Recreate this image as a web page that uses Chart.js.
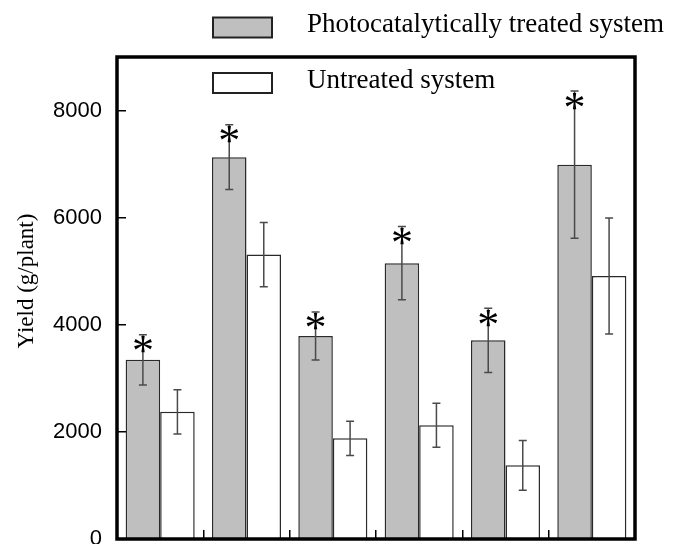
<!DOCTYPE html>
<html>
<head>
<meta charset="utf-8">
<script src="https://cdn.jsdelivr.net/npm/chart.js@4.4.0/dist/chart.umd.min.js"></script>
<style>
  html, body { margin: 0; padding: 0; background: #fff; }
  #wrap { width: 682px; height: 544px; }
</style>
</head>
<body>
<div id="wrap"><canvas id="rendimiento-grafica"></canvas></div>
<script>
// Datos (g/planta)
const grupos = ["1", "2", "3", "4", "5", "6"];
const tratado = [3345, 7130, 3790, 5150, 3710, 6990];
const tratadoErr = [470, 605, 450, 685, 600, 1375];
const sinTratar = [2375, 5310, 1880, 2125, 1375, 4910];
const sinTratarErr = [413, 600, 320, 410, 466, 1082];
const tratadoSignif = [true, true, true, true, true, true];
const sinTratarSignif = [false, false, false, false, false, false];
const yTicks = [0, 2000, 4000, 6000, 8000];
const yMax = 9000;
const yTitulo = "Yield (g/plant)";

const serif = "'Liberation Serif', 'Times New Roman', serif";
const sans = "'Liberation Sans', Arial, sans-serif";

// Barras de error y asteriscos
const barrasError = {
  id: "barrasError",
  afterDatasetsDraw(chart) {
    const { ctx } = chart;
    const y = chart.scales.y;
    chart.data.datasets.forEach((ds, i) => {
      const meta = chart.getDatasetMeta(i);
      meta.data.forEach((bar, j) => {
        const v = ds.data[j];
        const e = ds.errores[j];
        const yTop = y.getPixelForValue(v + e);
        const yBot = y.getPixelForValue(v - e);
        const x = bar.x;
        ctx.save();
        ctx.strokeStyle = "#4a4a4a";
        ctx.lineWidth = 1.5;
        ctx.beginPath();
        ctx.moveTo(x, yTop);
        ctx.lineTo(x, yBot);
        ctx.moveTo(x - 4, yTop);
        ctx.lineTo(x + 4, yTop);
        ctx.moveTo(x - 4, yBot);
        ctx.lineTo(x + 4, yBot);
        ctx.stroke();

        if (ds.signif[j]) {
          ctx.font = "44px " + serif;
          ctx.fillStyle = "#000";
          ctx.textAlign = "center";
          const m = ctx.measureText("*");
          const cy = yTop + 10;
          const base = cy + (m.actualBoundingBoxAscent - m.actualBoundingBoxDescent) / 2;
          ctx.fillText("*", x, base);
        }
        ctx.restore();
      });
    });
  },
};

// Marco del area, titulo del eje y leyenda
const marcoLeyenda = {
  id: "marcoLeyenda",
  afterDraw(chart) {
    const { ctx, chartArea } = chart;
    ctx.save();
    ctx.strokeStyle = "#000";
    ctx.lineWidth = 3.5;
    ctx.strokeRect(chartArea.left, chartArea.top, chartArea.right - chartArea.left, chartArea.bottom - chartArea.top);

    // titulo del eje y
    ctx.save();
    ctx.translate(27, 281);
    ctx.rotate(-Math.PI / 2);
    ctx.font = "23px " + serif;
    ctx.fillStyle = "#000";
    ctx.textAlign = "center";
    ctx.textBaseline = "middle";
    ctx.fillText(yTitulo, 0, 0);
    ctx.restore();

    const filas = [17.5, 73];
    chart.data.datasets.forEach((ds, i) => {
      const top = filas[i];
      ctx.fillStyle = ds.backgroundColor;
      ctx.fillRect(213, top, 59, 20);
      ctx.strokeStyle = "#222";
      ctx.lineWidth = 2;
      ctx.strokeRect(213, top, 59, 20);
      ctx.fillStyle = "#000";
      ctx.font = "27px " + serif;
      ctx.textAlign = "left";
      ctx.textBaseline = "alphabetic";
      ctx.fillText(ds.label, 307, top + 14.5);
    });
    ctx.restore();
  },
};

const ctx = document.getElementById("rendimiento-grafica");

new Chart(ctx, {
  type: "bar",
  data: {
    labels: grupos,
    datasets: [
      {
        label: "Photocatalytically treated system",
        data: tratado,
        errores: tratadoErr,
        signif: tratadoSignif,
        backgroundColor: "#bfbfbf",
        borderColor: "#2a2a2a",
        borderWidth: 1.5,
        categoryPercentage: 0.8,
        barPercentage: 1,
      },
      {
        label: "Untreated system",
        data: sinTratar,
        errores: sinTratarErr,
        signif: sinTratarSignif,
        backgroundColor: "#ffffff",
        borderColor: "#2a2a2a",
        borderWidth: 1.5,
        categoryPercentage: 0.8,
        barPercentage: 1,
      },
    ],
  },
  options: {
    responsive: true,
    maintainAspectRatio: false,
    animation: false,
    layout: { padding: { top: 57, bottom: 5, left: 0, right: 47 } },
    plugins: {
      legend: { display: false },
      tooltip: { enabled: false },
    },
    scales: {
      x: {
        grid: {
          offset: true,
          drawOnChartArea: false,
          drawTicks: true,
          tickLength: -9,
          color: "#000",
          lineWidth: 1.5,
        },
        ticks: { display: false },
        border: { display: false },
        afterFit: (s) => { s.height = 0; },
      },
      y: {
        min: 0,
        max: yMax,
        afterBuildTicks: (s) => { s.ticks = yTicks.map((v) => ({ value: v })); },
        grid: {
          drawOnChartArea: false,
          drawTicks: true,
          tickLength: -9,
          color: "#000",
          lineWidth: 1.5,
        },
        border: { display: false },
        ticks: {
          padding: 24,
          color: "#000",
          font: { family: sans, size: 22 },
          callback: (v) => String(v),
        },
        afterFit: (s) => {
          s.width = 117;
          s.paddingTop = 0;
          s.paddingBottom = 0;
        },
      },
    },
  },
  plugins: [barrasError, marcoLeyenda],
});
</script>
</body>
</html>
